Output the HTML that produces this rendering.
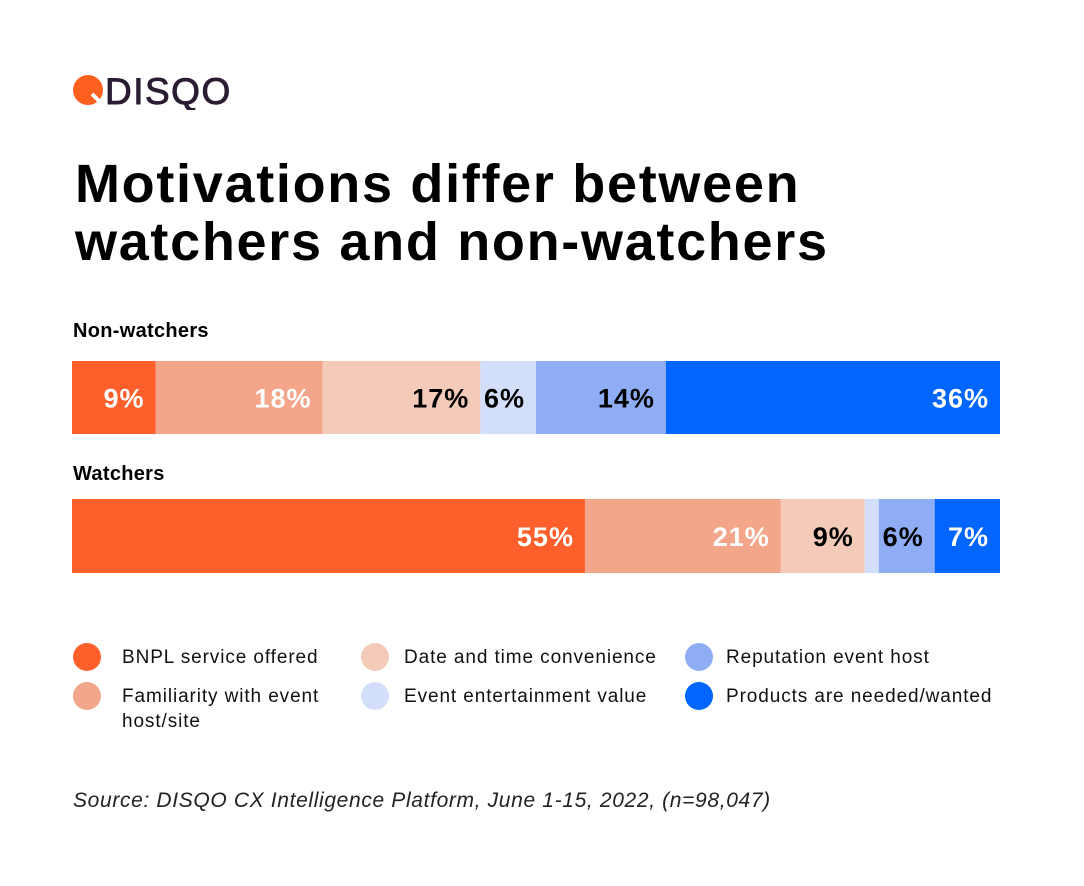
<!DOCTYPE html>
<html><head><meta charset="utf-8"><style>
body{margin:0;width:1084px;height:886px;background:#fff;font-family:"Liberation Sans",sans-serif;overflow:hidden;position:relative}
.abs{position:absolute}
h1{position:absolute;left:75px;top:155px;margin:0;font-size:54px;line-height:58px;font-weight:900;color:#000;letter-spacing:1.7px}
.lab{position:absolute;left:73px;font-size:20px;font-weight:bold;color:#000;letter-spacing:0.3px}
.leg{position:absolute;font-size:19px;color:#111;line-height:25px;letter-spacing:0.9px}
.dot{position:absolute;width:28px;height:28px;border-radius:50%}
</style></head><body>
<div class="abs" style="left:72px;top:70px;height:40px">
<svg width="170" height="40"><circle cx="16" cy="20" r="15" fill="#FF5F1F"/><line x1="20" y1="24" x2="30" y2="34" stroke="#fff" stroke-width="4"/>
<text x="33" y="34" font-family="Liberation Sans" font-size="37" fill="#2b1c33" stroke="#2b1c33" stroke-width="0.9" letter-spacing="1.5">DISQO</text></svg></div>
<h1>Motivations differ between<br>watchers and non-watchers</h1>
<div class="lab" style="top:320px">Non-watchers</div>
<div class="lab" style="top:463px">Watchers</div>
<svg id="chart" class="abs" style="left:0;top:0" width="1084" height="886"></svg>
<div id="legend"></div>
<div class="abs" style="left:73px;top:789px;font-size:21px;font-style:italic;color:#222;letter-spacing:0.65px">Source: DISQO CX Intelligence Platform, June 1-15, 2022, (n=98,047)</div>
<script>
const categories=["BNPL service offered","Familiarity with event host/site","Date and time convenience","Event entertainment value","Reputation event host","Products are needed/wanted"];
const nonWatchers=[9,18,17,6,14,36];
const watchers=[55,21,9,1.5,6,7];
const watcherLabels=["55%","21%","9%","","6%","7%"];
const nonWatcherLabels=["9%","18%","17%","6%","14%","36%"];
const colors=["#FF5F2B","#F4A68A","#F4CBB9","#D3DFFA","#8EADF4","#0066FF"];
const textColors=["#fff","#fff","#000","#000","#000","#fff"];
const svg=document.getElementById('chart');const NS="http://www.w3.org/2000/svg";
const x0=72,W=928;
function drawRow(vals,labels,y,h,name){
 const total=vals.reduce((a,b)=>a+b,0);let acc=0;
 vals.forEach((v,i)=>{
  const xs=x0+acc/total*W,w=v/total*W;acc+=v;
  const r=document.createElementNS(NS,'rect');
  r.setAttribute('x',xs);r.setAttribute('y',y);r.setAttribute('width',w);r.setAttribute('height',h);r.setAttribute('fill',colors[i]);
  
  
  svg.appendChild(r);
  if(labels[i]){const t=document.createElementNS(NS,'text');
  t.setAttribute('x',xs+w-11);t.setAttribute('y',y+h/2+10);t.setAttribute('text-anchor','end');
  t.setAttribute('font-family','Liberation Sans');t.setAttribute('font-weight','bold');t.setAttribute('font-size','27');t.setAttribute('letter-spacing','1');t.setAttribute('fill',textColors[i]);
  t.textContent=labels[i];
  
  
  svg.appendChild(t);}
 });
}
drawRow(nonWatchers,nonWatcherLabels,361,73,'non-watchers');
drawRow(watchers,watcherLabels,499,74,'watchers');
const lg=document.getElementById('legend');
const dotPos=[[73,643],[73,682],[361,643],[361,682],[685,643],[685,682]];
const txtPos=[[122,645],[122,684],[404,645],[404,684],[726,645],[726,684]];
const txt=["BNPL service offered","Familiarity with event<br>host/site","Date and time convenience","Event entertainment value","Reputation event host","Products are needed/wanted"];
[0,1,2,3,4,5].forEach(i=>{
 const d=document.createElement('div');d.className='dot';d.style.left=dotPos[i][0]+'px';d.style.top=dotPos[i][1]+'px';d.style.background=colors[i];
 
 
 lg.appendChild(d);
 const s=document.createElement('div');s.className='leg';s.style.left=txtPos[i][0]+'px';s.style.top=txtPos[i][1]+'px';s.innerHTML=txt[i];
 
 
 lg.appendChild(s);
});
</script>
</body></html>
